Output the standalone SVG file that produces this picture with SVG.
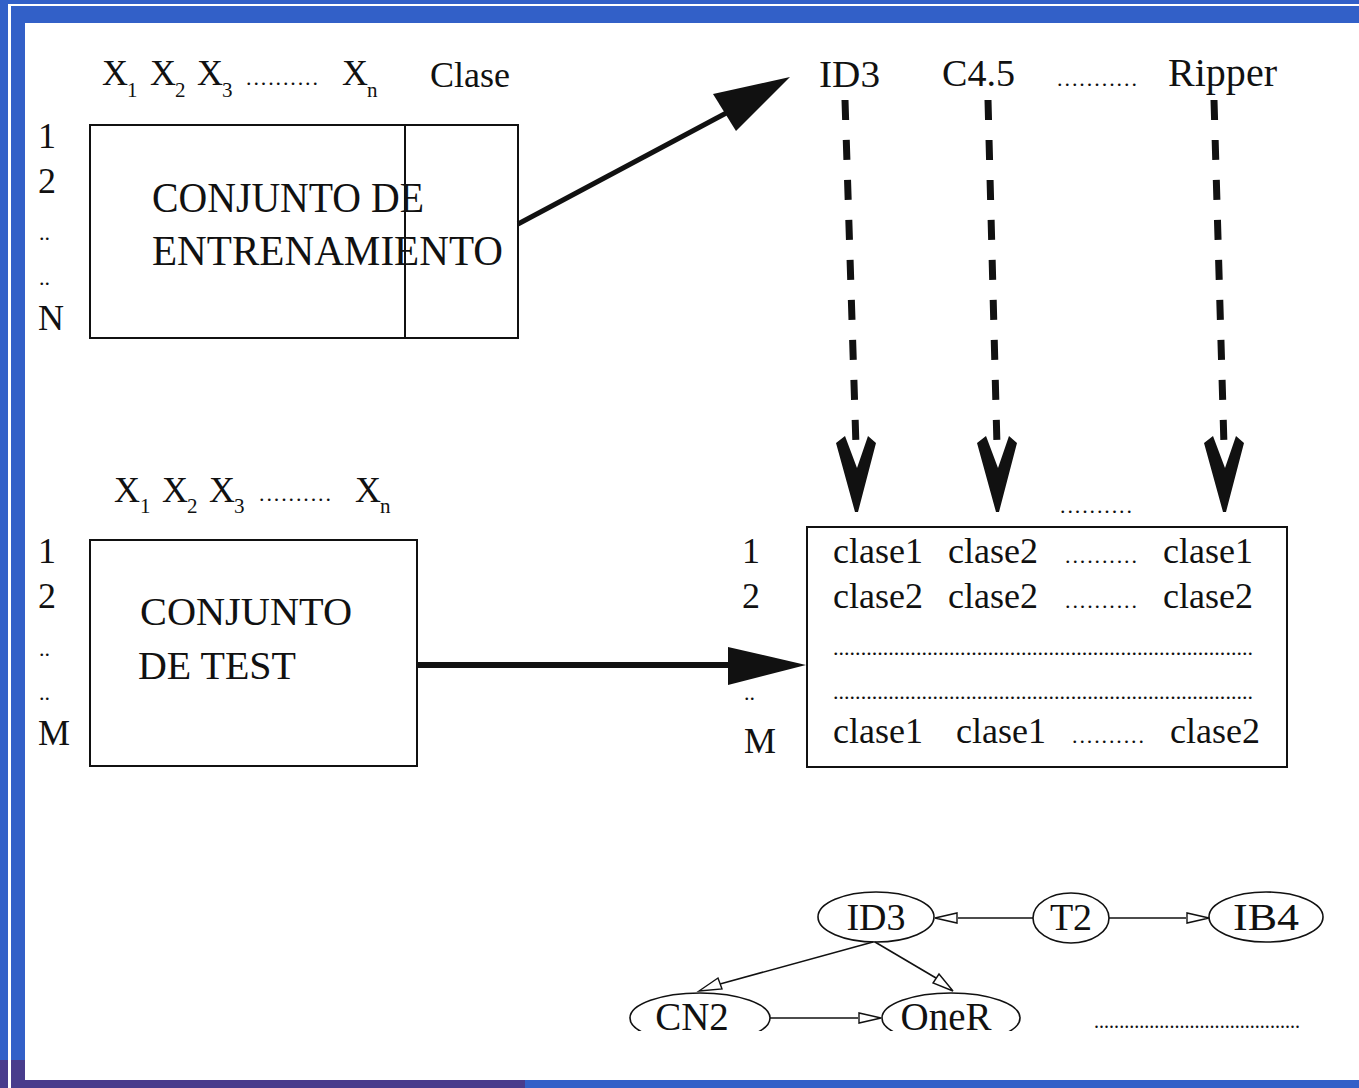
<svg xmlns="http://www.w3.org/2000/svg" width="1359" height="1088" viewBox="0 0 1359 1088">
<style>
text{font-family:"Liberation Serif","Times New Roman",serif;fill:#111}
.t36{font-size:36px}
.t40{font-size:40px}
.t42{font-size:42px}
.sub{font-size:21px}
.box{fill:none;stroke:#111;stroke-width:2}
.ell{fill:#fff;stroke:#111;stroke-width:1.6}
.thin{stroke:#111;stroke-width:1.6;fill:none}
.head{fill:#fff;stroke:#111;stroke-width:1.4}
.dash{stroke:#111;stroke-width:7;stroke-dasharray:20 20;fill:none}
</style>
<defs>
<clipPath id="cut"><rect x="0" y="0" width="1359" height="1031"/></clipPath>
</defs>
<!-- frame -->
<g id="frame">
<rect x="0" y="0" width="1359" height="1088" fill="#3260C8"/>
<rect x="0" y="1060" width="26" height="28" fill="#483C8C"/>
<rect x="0" y="1080" width="525" height="8" fill="#483C8C"/>
<rect x="8" y="4" width="1351" height="2" fill="#fff"/>
<rect x="8" y="4" width="3" height="1084" fill="#fff"/>
<rect x="25" y="23" width="1334" height="1057" fill="#fff"/>
</g>
<!-- training set -->
<g id="training">
<text class="t36"><tspan x="102" y="85">X</tspan><tspan class="sub" x="127" y="97">1</tspan><tspan x="150" y="85">X</tspan><tspan class="sub" x="175" y="97">2</tspan><tspan x="197" y="85">X</tspan><tspan class="sub" x="222" y="97">3</tspan><tspan x="342" y="85">X</tspan><tspan class="sub" x="367" y="97">n</tspan></text>
<text x="246" y="85" font-size="22" textLength="72" lengthAdjust="spacing">..........</text>
<text class="t36" x="430" y="87">Clase</text>
<text class="t36" x="38" y="148">1</text>
<text class="t36" x="38" y="193">2</text>
<text x="39" y="240" font-size="22">..</text>
<text x="39" y="285" font-size="22">..</text>
<text class="t36" x="38" y="330">N</text>
<rect class="box" x="90" y="125" width="428" height="213"/>
<line x1="405" y1="125" x2="405" y2="338" stroke="#111" stroke-width="2"/>
<text class="t42" x="152" y="212" textLength="272" lengthAdjust="spacingAndGlyphs">CONJUNTO DE</text>
<text class="t42" x="152" y="265" textLength="351" lengthAdjust="spacingAndGlyphs">ENTRENAMIENTO</text>
</g>
<!-- algorithms -->
<g id="algorithms">
<text x="819" y="87" font-size="38" textLength="61" lengthAdjust="spacingAndGlyphs">ID3</text>
<text x="942" y="86" font-size="38" textLength="73" lengthAdjust="spacingAndGlyphs">C4.5</text>
<text x="1057" y="86" font-size="22" textLength="80" lengthAdjust="spacing">...........</text>
<text x="1168" y="86" font-size="40" textLength="109" lengthAdjust="spacingAndGlyphs">Ripper</text>
</g>
<!-- test set -->
<g id="test">
<text class="t36"><tspan x="114" y="502">X</tspan><tspan class="sub" x="140" y="513">1</tspan><tspan x="162" y="502">X</tspan><tspan class="sub" x="187" y="513">2</tspan><tspan x="209" y="502">X</tspan><tspan class="sub" x="234" y="513">3</tspan><tspan x="355" y="502">X</tspan><tspan class="sub" x="380" y="513">n</tspan></text>
<text x="259" y="501" font-size="22" textLength="72" lengthAdjust="spacing">..........</text>
<text class="t36" x="38" y="563">1</text>
<text class="t36" x="38" y="608">2</text>
<text x="39" y="656" font-size="22">..</text>
<text x="39" y="700" font-size="22">..</text>
<text class="t36" x="38" y="745">M</text>
<rect class="box" x="90" y="540" width="327" height="226"/>
<text class="t40" x="140" y="625" textLength="212" lengthAdjust="spacingAndGlyphs">CONJUNTO</text>
<text class="t40" x="138" y="679" textLength="158" lengthAdjust="spacingAndGlyphs">DE TEST</text>
</g>
<!-- results -->
<g id="results">
<text x="1060" y="513" font-size="22" textLength="72" lengthAdjust="spacing">..........</text>
<text class="t36" x="742" y="563">1</text>
<text class="t36" x="742" y="608">2</text>
<text x="744" y="700" font-size="22">..</text>
<text class="t36" x="744" y="753">M</text>
<rect class="box" x="807" y="527" width="480" height="240"/>
<g class="t36">
<text x="833" y="563">clase1</text><text x="948" y="563">clase2</text><text x="1163" y="563">clase1</text>
<text x="833" y="608">clase2</text><text x="948" y="608">clase2</text><text x="1163" y="608">clase2</text>
<text x="833" y="743">clase1</text><text x="956" y="743">clase1</text><text x="1170" y="743">clase2</text>
</g>
<text x="1065" y="563" font-size="22" textLength="72" lengthAdjust="spacing">..........</text>
<text x="1065" y="608" font-size="22" textLength="72" lengthAdjust="spacing">..........</text>
<text x="1072" y="743" font-size="22" textLength="72" lengthAdjust="spacing">..........</text>
<text x="833" y="655" font-size="22" textLength="420" lengthAdjust="spacing">............................................................................</text>
<text x="833" y="699" font-size="22" textLength="420" lengthAdjust="spacing">............................................................................</text>
</g>
<!-- graph nodes -->
<g id="g-id3"><ellipse class="ell" cx="876" cy="917" rx="58" ry="25"/><text x="876" y="930" font-size="38" text-anchor="middle">ID3</text></g>
<g id="g-t2"><ellipse class="ell" cx="1071" cy="918" rx="38" ry="25"/><text x="1071" y="930" font-size="38" text-anchor="middle">T2</text></g>
<g id="g-ib4"><ellipse class="ell" cx="1266" cy="917" rx="57" ry="25"/><text x="1266" y="930" font-size="38" text-anchor="middle" textLength="66" lengthAdjust="spacingAndGlyphs">IB4</text></g>
<g id="g-cn2" clip-path="url(#cut)"><ellipse class="ell" cx="700" cy="1018" rx="70" ry="25"/><text x="692" y="1030" font-size="39" text-anchor="middle">CN2</text></g>
<g id="g-oner" clip-path="url(#cut)"><ellipse class="ell" cx="951" cy="1018" rx="69" ry="25"/><text x="946" y="1030" font-size="39" text-anchor="middle">OneR</text></g>
<text x="1094" y="1028" font-size="20" textLength="206" lengthAdjust="spacing">.........................................</text>
<!-- connectors -->
<g id="connectors">
<line x1="518" y1="224" x2="730" y2="111" stroke="#111" stroke-width="5"/>
<polygon points="790,77 713,94 736,131" fill="#111"/>
<line x1="417" y1="665" x2="740" y2="665" stroke="#111" stroke-width="6"/>
<polygon points="728,647 806,665 728,685" fill="#111"/>
<line class="dash" x1="845" y1="100" x2="856" y2="446"/>
<polygon points="836,443 845,436 857,468 868,436 876,443 858,512 855,512" fill="#111"/>
<line class="dash" x1="988" y1="100" x2="997" y2="446"/>
<polygon points="977,443 986,436 998,468 1009,436 1017,443 999,512 996,512" fill="#111"/>
<line class="dash" x1="1214" y1="100" x2="1224" y2="446"/>
<polygon points="1204,443 1213,436 1225,468 1236,436 1244,443 1226,512 1223,512" fill="#111"/>
<line class="thin" x1="1033" y1="918" x2="958" y2="918"/>
<polygon class="head" points="935,918 957,913 957,923"/>
<line class="thin" x1="1109" y1="918" x2="1186" y2="918"/>
<polygon class="head" points="1209,918 1187,913 1187,923"/>
<line class="thin" x1="770" y1="1018" x2="858" y2="1018"/>
<polygon class="head" points="881,1018 859,1013 859,1023"/>
<line class="thin" x1="873" y1="942" x2="720" y2="984"/>
<polygon class="head" points="699,991 718,978 722,989"/>
<line class="thin" x1="875" y1="942" x2="936" y2="978"/>
<polygon class="head" points="953,991 933,983 939,974"/>
</g>
</svg>
